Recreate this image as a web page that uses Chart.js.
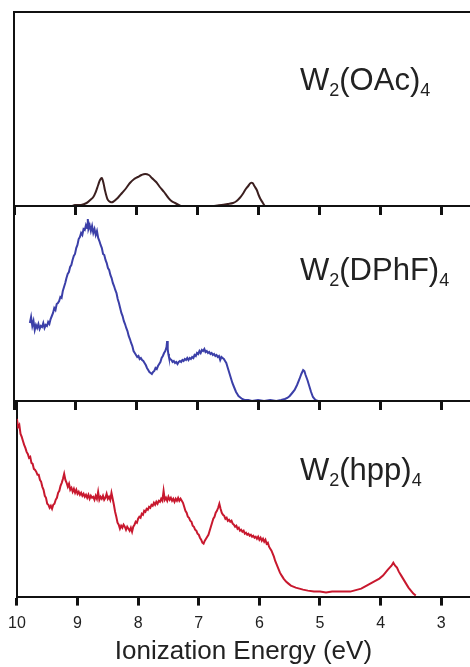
<!DOCTYPE html>
<html>
<head>
<meta charset="utf-8">
<script src="https://cdn.jsdelivr.net/npm/chart.js@4.4.1/dist/chart.umd.min.js"></script>
<style>
  html, body { margin: 0; padding: 0; background: #fff; }
  body { width: 470px; height: 667px; position: relative; overflow: hidden; }
  canvas { position: absolute; left: 0; }
  .lbl { position: absolute; left: 300px; font-family: "Liberation Sans", Arial, sans-serif; font-size: 31px; line-height: 32px; color: #222; white-space: nowrap; }
  .lbl .s { font-size: 18px; position: relative; top: 6px; line-height: 0; }
</style>
</head>
<body>
<canvas id="c1" width="470" height="215" style="top:0px"></canvas>
<canvas id="c2" width="470" height="210" style="top:200px"></canvas>
<canvas id="c3" width="470" height="272" style="top:395px"></canvas>
<div class="lbl" style="top:64px">W<span class="s">2</span>(OAc)<span class="s">4</span></div>
<div class="lbl" style="top:254px">W<span class="s">2</span>(DPhF)<span class="s">4</span></div>
<div class="lbl" style="top:454px">W<span class="s">2</span>(hpp)<span class="s">4</span></div>
<script>
// ---------- data (ionization energy in eV, intensity in arbitrary units) ----------
const panelLabels = ["W2(OAc)4", "W2(DPhF)4", "W2(hpp)4"];
const axisTitle = "Ionization Energy (eV)";
const tickValues = [10, 9, 8, 7, 6, 5, 4, 3];

const energyOAc = [9.05, 9.00, 8.90, 8.81, 8.75, 8.70, 8.66, 8.62, 8.59, 8.56, 8.53, 8.51, 8.48, 8.46, 8.42, 8.38, 8.30, 8.23, 8.16, 8.10, 8.03, 7.97, 7.91, 7.85, 7.79, 7.74, 7.67, 7.61, 7.54, 7.48, 7.42, 7.36, 7.30, 7.27, 7.00,
  6.74, 6.60, 6.50, 6.41, 6.35, 6.30, 6.25, 6.20, 6.16, 6.12, 6.09, 6.06, 6.02, 5.99, 5.96, 5.92, 5.89];
const intensityOAc = [0, 1, 1, 3, 6, 9, 14, 21, 26, 28, 22, 16, 9, 6, 4, 4, 8, 13, 18, 23, 27, 29, 31, 32, 31, 28, 24, 19, 14, 9, 5, 3, 1, 0, null,
  0, 1, 2, 3, 5, 8, 12, 17, 20, 23, 23, 20, 16, 11, 7, 3, 0];

const energyDPhF = [9.74, 9.72, 9.70, 9.68, 9.66, 9.64, 9.62, 9.60, 9.58, 9.56, 9.54, 9.52, 9.50, 9.48, 9.46, 9.44, 9.42, 9.40, 9.38, 9.36,
  9.34, 9.32, 9.30, 9.28, 9.26, 9.24, 9.22, 9.20, 9.18, 9.16, 9.14, 9.12, 9.10, 9.08, 9.06, 9.04, 9.02, 9.00, 8.98, 8.96,
  8.94, 8.92, 8.90, 8.88, 8.86, 8.84, 8.82, 8.80, 8.79, 8.78, 8.76, 8.74, 8.72, 8.70, 8.68, 8.66, 8.64, 8.62, 8.60, 8.58,
  8.56, 8.54, 8.52, 8.50, 8.48, 8.46, 8.44, 8.42, 8.40, 8.38, 8.36, 8.34, 8.32, 8.30, 8.28, 8.26, 8.24, 8.22, 8.20, 8.18,
  8.16, 8.14, 8.12, 8.10, 8.08, 8.06, 8.04, 8.02, 8.00, 7.98, 7.96, 7.94, 7.92, 7.90, 7.88, 7.86, 7.84, 7.82, 7.80, 7.78,
  7.76, 7.74, 7.72, 7.70, 7.68, 7.66, 7.64, 7.62, 7.60, 7.58, 7.56, 7.54, 7.52, 7.50, 7.49, 7.48, 7.47, 7.46, 7.44, 7.42,
  7.40, 7.38, 7.36, 7.34, 7.32, 7.30, 7.28, 7.26, 7.24, 7.22, 7.20, 7.18, 7.16, 7.14, 7.12, 7.10, 7.08, 7.06, 7.04, 7.02,
  7.00, 6.98, 6.96, 6.94, 6.92, 6.90, 6.88, 6.86, 6.84, 6.82, 6.80, 6.78, 6.76, 6.74, 6.72, 6.70, 6.68, 6.66, 6.64, 6.62,
  6.60, 6.58, 6.56, 6.54, 6.52, 6.50, 6.48, 6.46, 6.44, 6.42, 6.40, 6.38, 6.36, 6.34, 6.32, 6.30, 6.26, 6.22, 6.16, 6.10,
  6.00, 5.90, 5.80, 5.70, 5.62, 5.56, 5.52, 5.48, 5.44, 5.40, 5.36, 5.32, 5.29, 5.26, 5.24, 5.22, 5.19, 5.16, 5.13, 5.10,
  5.06, 5.02];
const intensityDPhF = [78, 84, 75, 80, 71, 76, 73, 77, 72, 75, 74, 78, 73, 76, 75, 79, 77, 82, 85, 88,
  93, 91, 97, 98, 100, 104, 103, 110, 114, 118, 123, 127, 129, 134, 136, 141, 145, 147, 153, 156,
  162, 164, 168, 166, 172, 171, 176, 173, 182, 172, 176, 170, 175, 168, 172, 166, 170, 163, 160, 156,
  153, 147, 146, 141, 138, 133, 131, 126, 123, 118, 115, 111, 108, 102, 98, 93, 88, 85, 80, 77,
  73, 70, 65, 62, 58, 55, 50, 48, 46, 44, 45, 42, 43, 41, 40, 38, 36, 33, 31, 29,
  28, 27, 29, 30, 33, 32, 35, 37, 39, 43, 45, 48, 50, 54, 60, 52, 47, 44, 42, 41,
  39, 40, 38, 39, 37, 39, 40, 39, 41, 40, 42, 41, 43, 41, 43, 42, 44, 43, 46, 45,
  48, 47, 50, 48, 51, 50, 52, 49, 50, 48, 49, 47, 48, 46, 47, 45, 46, 44, 45, 41,
  44, 43, 42, 40, 38, 34, 30, 26, 22, 18, 15, 12, 9, 7, 5, 4, 2, 1, 1, 0,
  1, 0, 1, 0, 1, 2, 3, 5, 8, 11, 16, 22, 27, 31, 30, 26, 21, 15, 9, 4,
  1, 0];

const energyHpp = [10.00, 9.98, 9.96, 9.94, 9.92, 9.90, 9.88, 9.86, 9.84, 9.82, 9.80, 9.78, 9.76, 9.74, 9.72, 9.70, 9.68, 9.66, 9.64, 9.62,
  9.60, 9.58, 9.56, 9.54, 9.52, 9.50, 9.48, 9.46, 9.44, 9.42, 9.40, 9.38, 9.36, 9.34, 9.32, 9.30, 9.28, 9.26, 9.24, 9.22,
  9.20, 9.18, 9.16, 9.14, 9.12, 9.10, 9.08, 9.06, 9.04, 9.02, 9.00, 8.98, 8.96, 8.94, 8.92, 8.90, 8.88, 8.86, 8.84, 8.82,
  8.80, 8.78, 8.76, 8.74, 8.72, 8.70, 8.68, 8.66, 8.64, 8.62, 8.60, 8.58, 8.56, 8.54, 8.52, 8.50, 8.48, 8.46, 8.44, 8.42,
  8.40, 8.38, 8.36, 8.34, 8.32, 8.30, 8.28, 8.26, 8.24, 8.22, 8.20, 8.18, 8.16, 8.14, 8.12, 8.10, 8.08, 8.06, 8.04, 8.02,
  8.00, 7.98, 7.96, 7.94, 7.92, 7.90, 7.88, 7.86, 7.84, 7.82, 7.80, 7.78, 7.76, 7.74, 7.72, 7.70, 7.68, 7.66, 7.64, 7.62,
  7.60, 7.58, 7.56, 7.54, 7.52, 7.50, 7.48, 7.46, 7.44, 7.42, 7.40, 7.38, 7.36, 7.34, 7.32, 7.30, 7.28, 7.26, 7.24, 7.22,
  7.20, 7.18, 7.16, 7.14, 7.12, 7.10, 7.08, 7.06, 7.04, 7.02, 7.00, 6.98, 6.96, 6.94, 6.92, 6.90, 6.88, 6.86, 6.84, 6.82,
  6.80, 6.78, 6.76, 6.74, 6.72, 6.70, 6.68, 6.66, 6.64, 6.62, 6.60, 6.58, 6.56, 6.54, 6.52, 6.50, 6.48, 6.46, 6.44, 6.42,
  6.40, 6.38, 6.36, 6.34, 6.32, 6.30, 6.28, 6.26, 6.24, 6.22, 6.20, 6.18, 6.16, 6.14, 6.12, 6.10, 6.08, 6.06, 6.04, 6.02,
  6.00, 5.98, 5.96, 5.94, 5.92, 5.90, 5.88, 5.86, 5.84, 5.82, 5.80, 5.78, 5.76, 5.74, 5.72, 5.70, 5.68, 5.66, 5.64, 5.62,
  5.60, 5.56, 5.52, 5.48, 5.44, 5.40, 5.34, 5.28, 5.20, 5.10, 5.00, 4.90, 4.80, 4.70, 4.60, 4.50, 4.44, 4.38, 4.32, 4.26,
  4.20, 4.14, 4.08, 4.02, 3.96, 3.92, 3.88, 3.85, 3.82, 3.79, 3.76, 3.73, 3.70, 3.66, 3.62, 3.58, 3.54, 3.50, 3.46, 3.42];
const intensityHpp = [178, 170, 172, 163, 160, 156, 152, 149, 145, 143, 139, 140, 134, 133, 128, 127, 125, 122, 122, 117,
  115, 110, 107, 101, 99, 93, 92, 89, 91, 88, 92, 93, 97, 99, 104, 106, 111, 114, 118, 123,
  117, 114, 110, 113, 107, 109, 105, 108, 104, 107, 103, 105, 102, 104, 101, 103, 100, 102, 99, 102,
  98, 101, 99, 100, 97, 101, 98, 105, 97, 100, 98, 101, 97, 99, 103, 98, 100, 97, 104, 98,
  92, 85, 80, 74, 72, 68, 71, 69, 72, 70, 67, 70, 68, 66, 69, 65, 70, 72, 75, 74,
  78, 80, 79, 83, 82, 86, 85, 88, 87, 90, 89, 92, 91, 94, 92, 95, 93, 96, 95, 98,
  96, 106, 97, 99, 96, 100, 97, 99, 96, 98, 95, 98, 96, 99, 96, 98, 96, 94, 90, 86,
  84, 80, 79, 76, 75, 71, 70, 67, 66, 63, 62, 59, 57, 54, 53, 56, 58, 60, 62, 66,
  70, 74, 78, 80, 84, 86, 89, 93, 88, 84, 82, 81, 78, 79, 76, 77, 75, 76, 73, 72,
  70, 71, 68, 69, 66, 67, 65, 66, 63, 64, 62, 63, 61, 62, 60, 61, 59, 60, 58, 60,
  57, 59, 56, 58, 55, 57, 53, 54, 50, 48, 46, 43, 40, 36, 33, 30, 27, 24, 22, 20,
  18, 15, 13, 11, 10, 9, 8, 7, 6, 5, 5, 4, 5, 5, 5, 5, 6, 7, 8, 10,
  12, 14, 16, 18, 21, 24, 27, 29, 31, 34, 31, 29, 25, 21, 17, 13, 9, 6, 3, 1];

// ---------- helpers ----------
const FONT = '"Liberation Sans", Arial, sans-serif';
const INK = '#111111';

function pts(xs, ys) { return xs.map((x, i) => ({ x: x, y: ys[i] })); }

function makePanel(id, xs, ys, color, yMax, opts) {
  const bottom = opts.bottom;
  const xScale = {
    type: 'linear', position: 'bottom', reverse: true, min: 2.525, max: 10,
    afterBuildTicks: (s) => { s.ticks = tickValues.map(v => ({ value: v })); },
    ticks: {
      display: !!bottom, autoSkip: false, padding: 8, color: '#222',
      font: { family: FONT, size: 16 }
    },
    grid: { display: true, drawOnChartArea: false, drawTicks: true, tickLength: 9, color: INK, lineWidth: 3 },
    border: { display: true, color: INK, width: 2 },
    title: bottom ? { display: true, text: axisTitle, color: '#222', font: { family: FONT, size: 26 }, padding: { top: -5, bottom: 0 } } : { display: false }
  };
  return new Chart(document.getElementById(id), {
    type: 'line',
    data: { datasets: [{ data: pts(xs, ys), borderColor: color, borderWidth: 2, pointRadius: 0, tension: opts.tension || 0, spanGaps: false, fill: false }] },
    options: {
      responsive: false, animation: false, devicePixelRatio: 1,
      layout: { padding: { top: opts.padTop, left: 14, right: 0, bottom: 0 } },
      plugins: { legend: { display: false }, tooltip: { enabled: false } },
      scales: {
        x: xScale,
        xTop: {
          type: 'linear', position: 'top', display: true, min: 0, max: 1,
          ticks: { display: false }, grid: { display: false, drawTicks: false },
          border: { display: true, color: INK, width: 2 }
        },
        y: {
          type: 'linear', min: 0, max: yMax, display: true,
          ticks: { display: false }, grid: { display: false, drawTicks: false },
          border: { display: true, color: INK, width: 2 }
        }
      }
    }
  });
}

makePanel('c1', energyOAc, intensityOAc, '#3b1f1f', 194, { padTop: 12, tension: 0.35 });
makePanel('c2', energyDPhF, intensityDPhF, '#3b3fa8', 195, { padTop: 6 });
makePanel('c3', energyHpp, intensityHpp, '#c8182e', 196, { padTop: 6, bottom: true });
</script>
</body>
</html>
